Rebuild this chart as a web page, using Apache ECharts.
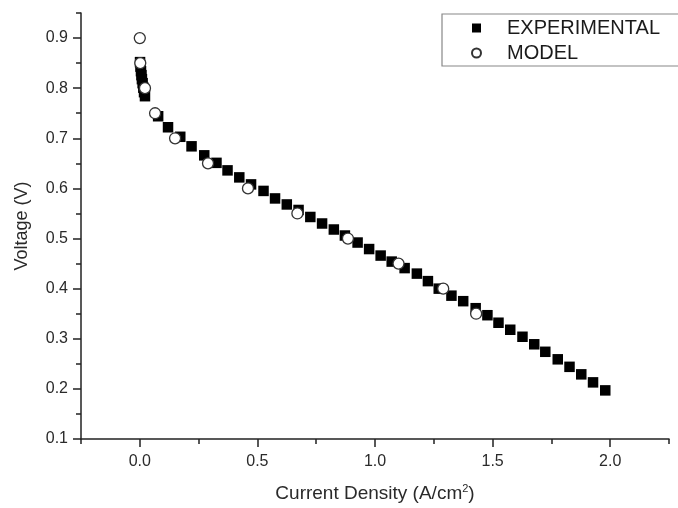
<!DOCTYPE html>
<html>
<head>
<meta charset="utf-8">
<script src="https://cdn.jsdelivr.net/npm/echarts@6/dist/echarts.min.js"></script>
<style>html,body{margin:0;padding:0;background:#fff}#c{width:678px;height:508px}</style>
</head>
<body>
<div id="c"></div>
<script>
// Data
var expX = [0.001,0.003,0.005,0.007,0.009,0.012,0.015,0.018,0.022,0.078,0.120,0.172,0.220,0.274,0.326,0.373,0.423,0.473,0.526,0.575,0.625,0.675,0.725,0.775,0.825,0.872,0.926,0.975,1.024,1.071,1.126,1.178,1.225,1.271,1.325,1.375,1.428,1.478,1.525,1.575,1.627,1.677,1.724,1.777,1.827,1.877,1.927,1.979];
var expY = [0.852,0.843,0.834,0.826,0.818,0.810,0.801,0.792,0.784,0.744,0.722,0.703,0.684,0.666,0.651,0.636,0.622,0.608,0.595,0.580,0.568,0.557,0.543,0.530,0.518,0.506,0.492,0.479,0.466,0.454,0.441,0.430,0.415,0.400,0.386,0.375,0.361,0.347,0.332,0.318,0.304,0.289,0.274,0.259,0.244,0.229,0.213,0.197];
var modelX = [0.000,0.002,0.022,0.065,0.150,0.290,0.460,0.670,0.885,1.100,1.290,1.430];
var modelY = [0.900,0.850,0.800,0.750,0.700,0.650,0.600,0.550,0.500,0.450,0.400,0.350];
var xMajorTicks = [0.0,0.5,1.0,1.5,2.0];
var xMinorTicks = [-0.25,0.25,0.75,1.25,1.75,2.25];
var yMajorTicks = [0.1,0.2,0.3,0.4,0.5,0.6,0.7,0.8,0.9];
var yMinorTicks = [0.15,0.25,0.35,0.45,0.55,0.65,0.75,0.85,0.95];
var seriesNames = ['EXPERIMENTAL','MODEL'];

function pairs(xs, ys){ return xs.map(function(x,i){ return [x, ys[i]]; }); }

var FONT = '"Liberation Sans", Arial, sans-serif';
var AXC = '#222';
var TXC = '#2a2a2a';

var chart = echarts.init(document.getElementById('c'), null, {renderer:'canvas'});
var grid = {left:81, right:9, top:13, bottom:67};
function xAx(major){
  return {
    type:'value', min:-0.25, max:2.25, position:'bottom',
    axisLine:{show:major, onZero:false, lineStyle:{color:AXC, width:1.5}},
    axisTick:{show:true, inside:false, length: major?8:5, customValues: major?xMajorTicks:xMinorTicks, lineStyle:{color:AXC, width:1.5}},
    axisLabel:{show:major, customValues:xMajorTicks, margin:15, fontSize:16, color:TXC, fontFamily:FONT,
      formatter:function(v){ return v.toFixed(1); }},
    splitLine:{show:false},
    name: major ? 'Current Density (A/cm{sup|2})' : '',
    nameLocation:'middle', nameGap:44,
    nameTextStyle:{fontSize:19, color:TXC, fontFamily:FONT, rich:{sup:{fontSize:11, verticalAlign:'top', padding:[0,0,10,0], color:TXC, fontFamily:FONT}}}
  };
}
function yAx(major){
  return {
    type:'value', min:0.1, max:0.95, position:'left',
    axisLine:{show:major, onZero:false, lineStyle:{color:AXC, width:1.5}},
    axisTick:{show:true, inside:false, length: major?8:5, customValues: major?yMajorTicks:yMinorTicks, lineStyle:{color:AXC, width:1.5}},
    axisLabel:{show:major, customValues:yMajorTicks, margin:13, fontSize:16, color:TXC, fontFamily:FONT,
      formatter:function(v){ return v.toFixed(1); }},
    splitLine:{show:false},
    name: major ? 'Voltage (V)' : '',
    nameLocation:'middle', nameGap:50, nameRotate:90,
    nameTextStyle:{fontSize:18, color:TXC, fontFamily:FONT}
  };
}
chart.setOption({
  animation:false,
  backgroundColor:'#fff',
  grid: grid,
  xAxis:[xAx(true), xAx(false)],
  yAxis:[yAx(true), yAx(false)],
  legend:{
    orient:'vertical', left:442, top:14,
    padding:[4,60,3,29], itemGap:5,
    itemWidth:9, itemHeight:9,
    borderColor:'#888', borderWidth:1.2, backgroundColor:'#fff',
    textStyle:{fontSize:20, color:'#1a1a1a', fontFamily:FONT, lineHeight:20, padding:[0,0,0,21]},
    data: seriesNames
  },
  series:[
    {name:seriesNames[0], type:'scatter', symbol:'rect', symbolSize:10.5,
      itemStyle:{color:'#000', opacity:1}, data:pairs(expX, expY), z:2},
    {name:seriesNames[1], type:'scatter', symbol:'circle', symbolSize:11,
      itemStyle:{color:'#fff', borderColor:'#333', borderWidth:1.3, opacity:1}, data:pairs(modelX, modelY), z:3}
  ]
});
</script>
</body>
</html>
